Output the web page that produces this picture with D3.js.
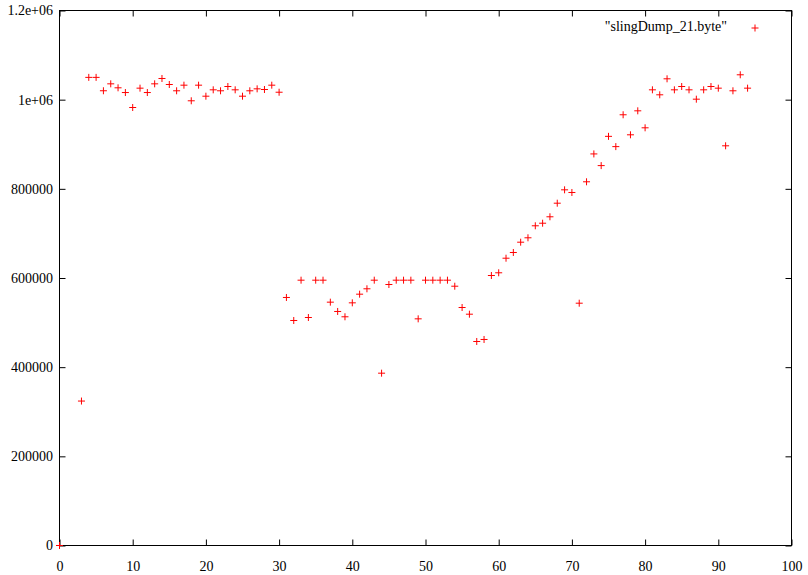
<!DOCTYPE html>
<html>
<head>
<meta charset="utf-8">
<script src="https://cdn.jsdelivr.net/npm/d3@7"></script>
<style>
  html, body { margin: 0; padding: 0; background: #fff; }
  svg { display: block; }
</style>
</head>
<body>
<div id="chart"></div>
<script>
const seriesName = '"slingDump_21.byte"';
const xIndex = [0, 3, 4, 5, 6, 7, 8, 9, 10, 11, 12, 13, 14, 15, 16, 17, 18, 19, 20,
  21, 22, 23, 24, 25, 26, 27, 28, 29, 30, 31, 32, 33, 34, 35, 36, 37, 38, 39, 40,
  41, 42, 43, 44, 45, 46, 47, 48, 49, 50, 51, 52, 53, 54, 55, 56, 57, 58, 59, 60,
  61, 62, 63, 64, 65, 66, 67, 68, 69, 70, 71, 72, 73, 74, 75, 76, 77, 78, 79, 80,
  81, 82, 83, 84, 85, 86, 87, 88, 89, 90, 91, 92, 93, 94];
const byteValues = [0, 324000, 1050000, 1050000, 1020000, 1035500, 1026600, 1016000, 982400,
  1025800, 1016000, 1035500, 1047500, 1034000, 1019900, 1032500, 997500, 1032500, 1007800,
  1022100, 1019900, 1029500, 1022100, 1007800, 1019900, 1024300, 1022800, 1032500, 1016700,
  556300, 504700, 595100, 511400, 595100, 595100, 545800, 524900, 513000, 544300,
  563700, 575800, 595100, 386500, 585400, 595100, 595100, 595100, 508400, 595100,
  595100, 595100, 595100, 581600, 533800, 518800, 457600, 462100, 605600, 611700,
  644400, 657200, 680300, 690200, 717100, 722900, 737300, 767800, 797800, 791800,
  543500, 815800, 878300, 852100, 917700, 894700, 966100, 921200, 975000, 936900,
  1022100, 1010900, 1046800, 1022100, 1029500, 1022100, 1001100, 1022100, 1029500, 1025800,
  896500, 1019900, 1055800, 1025800];
const xTicks = [0, 10, 20, 30, 40, 50, 60, 70, 80, 90, 100];
const yTicks = [0, 200000, 400000, 600000, 800000, 1000000, 1200000];
const yTickLabels = ["0", "200000", "400000", "600000", "800000", "1e+06", "1.2e+06"];

const W = 808, H = 575;
const L = 59.5, R = 791.5, T = 10.5, B = 545.5;
const red = "#ff0000";
const serif = "Liberation Serif";

const svg = d3.select("#chart").append("svg").attr("width", W).attr("height", H);

const x = d3.scaleLinear().domain([0, 100]).range([L, R]);
const y = d3.scaleLinear().domain([0, 1200000]).range([B, T]);

const fontSize = "14px";

// bottom axis
const gB = svg.append("g").attr("transform", `translate(0,${B})`)
  .call(d3.axisBottom(x).tickValues(xTicks).tickSizeInner(-6).tickSizeOuter(0).tickFormat(d3.format("d")));
gB.selectAll("text").attr("y", 25).attr("dy", null);
// top axis (mirror ticks, no labels)
const gT = svg.append("g").attr("transform", `translate(0,${T})`)
  .call(d3.axisTop(x).tickValues(xTicks).tickSizeInner(-6).tickSizeOuter(0).tickFormat(""));
// left axis
const gL = svg.append("g").attr("transform", `translate(${L},0)`)
  .call(d3.axisLeft(y).tickValues(yTicks).tickSizeInner(-6).tickSizeOuter(0)
    .tickFormat((d, i) => yTickLabels[i]));
gL.selectAll("text").attr("x", -6.5).attr("dy", "0.32em");
// right axis
const gR = svg.append("g").attr("transform", `translate(${R},0)`)
  .call(d3.axisRight(y).tickValues(yTicks).tickSizeInner(-6).tickSizeOuter(0).tickFormat(""));

[gB, gT, gL, gR].forEach(g => {
  g.select(".domain").remove();
  g.selectAll("line").attr("stroke", "#000");
  g.attr("font-family", serif).attr("font-size", fontSize);
  g.selectAll("text").attr("fill", "#000").style("font-family", serif);
});

// frame
svg.append("rect").attr("x", L).attr("y", T).attr("width", R - L).attr("height", B - T)
  .attr("fill", "none").attr("stroke", "#000").attr("stroke-width", 1);

// legend
svg.append("text").attr("x", 727).attr("y", 31).attr("text-anchor", "end")
  .style("font-family", serif).style("font-size", fontSize)
  .attr("fill", "#000").text(seriesName);

const plus = "M-3.5,0H3.5M0,-3.5V3.5";
svg.append("path").attr("transform", "translate(755,28)").attr("d", plus)
  .attr("stroke", red).attr("stroke-width", 1).attr("fill", "none");

// points
const pts = xIndex.map((d, i) => ({ x: d, v: byteValues[i] }));
svg.append("g").selectAll("path").data(pts).join("path")
  .attr("transform", d => `translate(${x(d.x)},${y(d.v)})`)
  .attr("d", plus).attr("stroke", red).attr("stroke-width", 1).attr("fill", "none");
</script>
</body>
</html>
